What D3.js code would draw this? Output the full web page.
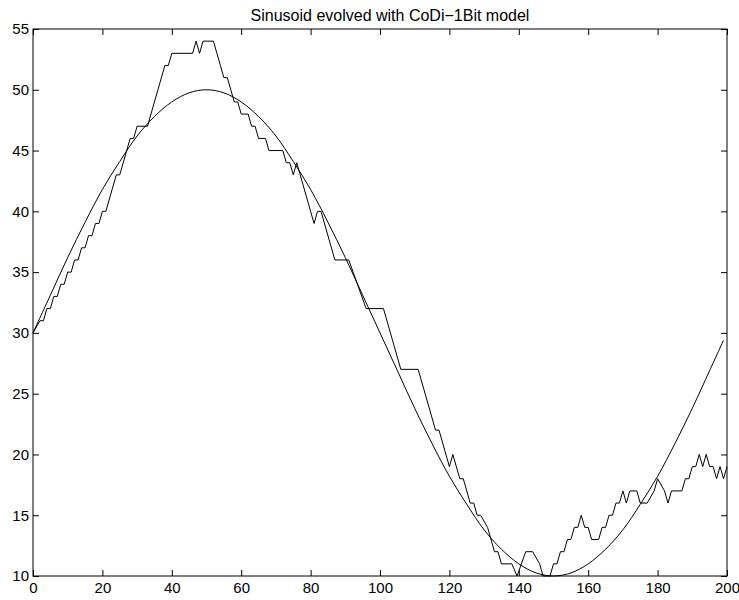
<!DOCTYPE html>
<html>
<head>
<meta charset="utf-8">
<script src="https://cdn.jsdelivr.net/npm/d3@7"></script>
<style>
  body { margin: 0; background: #fff; }
  text { font-family: "Liberation Sans", Arial, Helvetica, sans-serif; }
</style>
</head>
<body>
<div id="chart"></div>
<script>
  // values
  const xTicks = [0, 20, 40, 60, 80, 100, 120, 140, 160, 180, 200];
  const yTicks = [10, 15, 20, 25, 30, 35, 40, 45, 50, 55];

  // the smooth reference sinusoid (sampled every 5 steps)
  const sinePoints = [
    [0, 30], [5, 33.1], [10, 36.2], [15, 39.1], [20, 41.8], [25, 44.1], [30, 46.2],
    [35, 47.8], [40, 49], [45, 49.75], [50, 50], [55, 49.75], [60, 49], [65, 47.8],
    [70, 46.2], [75, 44.1], [80, 41.8], [85, 39.1], [90, 36.2], [95, 33.1], [100, 30],
    [105, 26.9], [110, 23.8], [115, 20.9], [120, 18.2], [125, 15.9], [130, 13.8],
    [135, 12.2], [140, 11], [145, 10.25], [150, 10], [155, 10.25], [160, 11],
    [165, 12.2], [170, 13.8], [175, 15.9], [180, 18.2], [185, 20.9], [190, 23.8],
    [195, 26.9], [199, 29.4]
  ];

  // the evolved (stepped) signal, corner points
  const codiPoints = [
    [0, 30], [2, 31], [3, 31], [4, 32], [5, 32], [6, 33], [7, 33], [8, 34], [9, 34],
    [10, 35], [11, 35], [12, 36], [13, 36], [14, 37], [15, 37], [16, 38], [17, 38],
    [18, 39], [19, 39], [20, 40], [21, 40], [24, 43], [25, 43], [28, 46], [29, 46],
    [30, 47], [33, 47], [38, 52], [39, 52], [40, 53], [46, 53], [47, 54], [48, 53],
    [49, 54], [52, 54], [53, 53], [54, 52], [55, 51], [56, 51], [57, 50], [58, 49],
    [59, 49], [60, 48], [62, 48], [63, 47], [64, 47], [65, 46], [67, 46], [68, 45],
    [72, 45], [73, 44], [74, 44], [75, 43], [76, 44], [81, 39], [82, 40], [83, 40],
    [87, 36], [91, 36], [96, 32], [101, 32], [106, 27], [111, 27], [116, 22], [117, 22],
    [120, 19], [121, 20], [123, 18], [124, 18], [126, 16], [127, 16], [128, 15], [129, 15],
    [131, 14], [133, 12], [134, 12], [135, 11], [138, 11], [139.5, 10], [142, 12],
    [144, 12], [146, 11], [147, 10], [149, 10], [150, 11], [151, 11], [152, 12], [153, 12],
    [154, 13], [155, 13], [156, 14], [157, 14], [158, 15], [159, 14], [160, 14], [161, 13],
    [163, 13], [164, 14], [165, 14], [166, 15], [167, 15], [168, 16], [169, 16], [170, 17],
    [171, 16], [172, 17], [174, 17], [175, 16], [177, 16], [179, 17], [180, 18], [182, 17],
    [183, 16], [184, 17], [187, 17], [188, 18], [189, 18], [190, 19], [191, 19], [192, 20],
    [193, 19], [194, 20], [195, 19], [196, 19], [197, 18], [198, 19], [199, 18], [200, 19]
  ];

  const titleText = "Sinusoid evolved with CoDi\u22121Bit model";

  // set the dimensions and margins of the graph
  const margin = {top: 29, right: 12, bottom: 24, left: 33},
    width = 739 - margin.left - margin.right,
    height = 600 - margin.top - margin.bottom;

  const svg = d3.select("#chart")
    .append("svg")
    .attr("width", 739)
    .attr("height", 600)
    .append("g")
    .attr("transform", `translate(${margin.left},${margin.top})`);

  const x = d3.scaleLinear().domain([0, 200]).range([0, width]);
  const y = d3.scaleLinear().domain([10, 55]).range([height, 0]);

  // axes, ticks pointing inwards like matlab
  const fontSize = "15px";
  svg.append("g")
    .attr("transform", `translate(0,${height})`)
    .call(d3.axisBottom(x).tickValues(xTicks).tickSizeInner(-6).tickSizeOuter(0).tickPadding(6))
    .call(g => g.selectAll("text").style("font-size", fontSize).attr("fill", "#000"));
  svg.append("g")
    .call(d3.axisTop(x).tickValues(xTicks).tickSizeInner(-6).tickSizeOuter(0).tickFormat(""));
  svg.append("g")
    .call(d3.axisLeft(y).tickValues(yTicks).tickSizeInner(-6).tickSizeOuter(0).tickPadding(4))
    .call(g => g.selectAll("text").style("font-size", fontSize).attr("fill", "#000"));
  svg.append("g")
    .attr("transform", `translate(${width},0)`)
    .call(d3.axisRight(y).tickValues(yTicks).tickSizeInner(-6).tickSizeOuter(0).tickFormat(""));

  svg.selectAll(".domain").remove();
  svg.append("rect")
    .attr("x", 0).attr("y", 0)
    .attr("width", width).attr("height", height)
    .attr("fill", "none").attr("stroke", "#000");
  svg.selectAll(".tick line").attr("stroke", "#000");

  const line = d3.line().x(d => x(d[0])).y(d => y(d[1]));

  svg.append("path")
    .datum(sinePoints)
    .attr("fill", "none")
    .attr("stroke", "#000")
    .attr("stroke-width", 1)
    .attr("d", line.curve(d3.curveCatmullRom));

  svg.append("path")
    .datum(codiPoints)
    .attr("fill", "none")
    .attr("stroke", "#000")
    .attr("stroke-width", 1)
    .attr("d", d3.line().x(d => x(d[0])).y(d => y(d[1]))(codiPoints));

  svg.append("text")
    .attr("x", width / 2 + 10)
    .attr("y", -8)
    .attr("text-anchor", "middle")
    .style("font-size", "16px")
    .text(titleText);
</script>
</body>
</html>
